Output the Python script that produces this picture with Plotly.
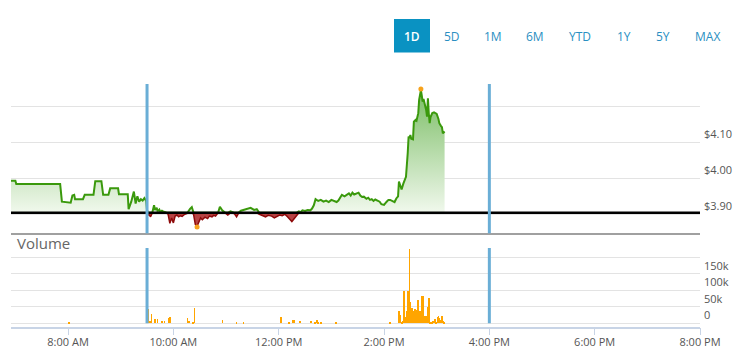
import plotly.graph_objects as go

DAY = "2019-03-07"

# ---------------- data ----------------
price_times = [
    "06:55", "07:00", "07:01", "07:51", "07:53", "07:59", "08:03", "08:05", "08:07", "08:08",
    "08:17", "08:19", "08:29", "08:31", "08:38", "08:40", "08:46", "08:48", "08:57", "08:58",
    "09:08", "09:09", "09:12", "09:15", "09:17", "09:19", "09:21", "09:23", "09:25", "09:27",
    "09:29", "09:30", "09:31", "09:32", "09:34", "09:36", "09:38", "09:39", "09:41", "09:42",
    "09:44", "09:45", "09:47", "09:49", "09:52", "09:54", "09:55", "09:56", "09:58", "10:00",
    "10:02", "10:04", "10:06", "10:08", "10:10", "10:13", "10:16", "10:19", "10:21", "10:23",
    "10:25", "10:27", "10:29", "10:31", "10:33", "10:36", "10:39", "10:41", "10:44", "10:46",
    "10:48", "10:51", "10:53", "10:56", "10:59", "11:02", "11:05", "11:08", "11:10", "11:12",
    "11:14", "11:17", "11:20", "11:24", "11:28", "11:32", "11:35", "11:38", "11:41", "11:45",
    "11:48", "11:52", "11:55", "11:58", "12:01", "12:04", "12:07", "12:10", "12:13", "12:15",
    "12:18", "12:20", "12:23", "12:25", "12:27", "12:30", "12:33", "12:36", "12:38", "12:40",
    "12:42", "12:45", "12:48", "12:51", "12:54", "12:57", "13:00", "13:03", "13:06", "13:08",
    "13:10", "13:12", "13:15", "13:18", "13:20", "13:22", "13:24", "13:26", "13:29", "13:31",
    "13:33", "13:35", "13:37", "13:40", "13:42", "13:44", "13:46", "13:48", "13:50", "13:52",
    "13:55", "13:57", "14:00", "14:03", "14:05", "14:07", "14:10", "14:12", "14:14", "14:16",
    "14:17", "14:19", "14:20", "14:22", "14:24", "14:25", "14:27", "14:28", "14:29", "14:30",
    "14:31", "14:33", "14:34", "14:36", "14:37", "14:39", "14:40", "14:42", "14:43", "14:44",
    "14:45", "14:47", "14:48", "14:49", "14:50", "14:51", "14:52", "14:53", "14:55", "14:57",
    "15:00", "15:02", "15:03", "15:05", "15:06", "15:07", "15:08", "15:09",
]
price_values = [
    3.993, 3.993, 3.984, 3.984, 3.935, 3.932, 3.932, 3.952, 3.954, 3.942,
    3.942, 3.954, 3.954, 3.992, 3.992, 3.954, 3.954, 3.972, 3.972, 3.956,
    3.956, 3.914, 3.935, 3.963, 3.930, 3.950, 3.935, 3.942, 3.938, 3.945,
    3.937, 3.912, 3.897, 3.900, 3.893, 3.905, 3.925, 3.912, 3.918, 3.908,
    3.913, 3.906, 3.910, 3.907, 3.905, 3.900, 3.885, 3.875, 3.890, 3.876,
    3.895, 3.898, 3.893, 3.896, 3.894, 3.900, 3.903, 3.915, 3.920, 3.900,
    3.872, 3.867, 3.880, 3.890, 3.885, 3.892, 3.888, 3.895, 3.893, 3.897,
    3.895, 3.905, 3.921, 3.910, 3.905, 3.898, 3.908, 3.905, 3.900, 3.893,
    3.902, 3.910, 3.912, 3.915, 3.918, 3.912, 3.914, 3.900, 3.896, 3.893,
    3.897, 3.895, 3.890, 3.893, 3.898, 3.896, 3.900, 3.893, 3.885, 3.880,
    3.889, 3.895, 3.908, 3.906, 3.911, 3.909, 3.912, 3.911, 3.916, 3.925,
    3.942, 3.937, 3.940, 3.935, 3.938, 3.934, 3.940, 3.937, 3.934, 3.938,
    3.945, 3.954, 3.950, 3.956, 3.958, 3.952, 3.960, 3.955, 3.957, 3.960,
    3.952, 3.948, 3.949, 3.943, 3.946, 3.940, 3.942, 3.937, 3.941, 3.938,
    3.935, 3.928, 3.926, 3.935, 3.940, 3.940, 3.936, 3.934, 3.944, 3.950,
    3.991, 3.978, 3.969, 3.985, 3.998, 4.004, 4.070, 4.116, 4.112, 4.120,
    4.110, 4.108, 4.157, 4.162, 4.160, 4.181, 4.218, 4.245, 4.230, 4.213,
    4.220, 4.204, 4.190, 4.171, 4.222, 4.180, 4.153, 4.170, 4.181, 4.183,
    4.179, 4.165, 4.153, 4.145, 4.142, 4.125, 4.127, 4.130,
]
prev_close = 3.904

extreme_times = ["14:42", "10:27"]
extreme_values = [4.248, 3.865]

volume_times = [
    "08:01", "09:31", "09:33", "09:35", "09:39", "09:42", "09:47", "09:50", "09:55", "09:56",
    "10:16", "10:18", "10:22", "10:24", "10:56", "11:12", "11:20", "12:03", "12:12", "12:16",
    "12:17", "12:24", "12:37", "12:41", "12:44", "12:45", "12:48", "13:05", "14:07", "14:17",
    "14:18", "14:20", "14:21", "14:22", "14:23", "14:25", "14:26", "14:27", "14:28", "14:29",
    "14:30", "14:31", "14:32", "14:34", "14:35", "14:36", "14:38", "14:39", "14:40", "14:41",
    "14:42", "14:43", "14:44", "14:45", "14:46", "14:47", "14:48", "14:50", "14:51", "14:52",
    "14:53", "14:55", "14:56", "14:58", "14:59", "15:01", "15:02", "15:03", "15:04", "15:06",
    "15:07", "15:08",
]
volume_values = [
    5000, 42000, 7000, 28000, 12000, 14000, 8000, 8000, 16000, 20000,
    16000, 7000, 4000, 47000, 10000, 4000, 4000, 20000, 4000, 10000,
    10000, 7000, 7000, 5000, 10000, 5000, 4000, 4000, 3000, 36000,
    26000, 3000, 3000, 8000, 99000, 20000, 38000, 99000, 84000, 225000,
    64000, 43000, 46000, 38000, 43000, 33000, 40000, 71000, 23000, 36000,
    33000, 84000, 38000, 84000, 23000, 20000, 23000, 48000, 77000, 5000,
    5000, 5000, 8000, 13000, 5000, 18000, 22000, 16000, 10000, 22000,
    8000, 4000,
]

session_bounds = ["09:30", "16:00"]
x_range = ["06:55", "20:00"]

price_ticks = [3.90, 4.00, 4.10, 4.20]
price_tick_labels = ["$3.90", "$4.00", "$4.10", ""]
volume_ticks = [0, 50000, 100000, 150000, 200000]
volume_tick_labels = ["0", "50k", "100k", "150k", ""]

range_labels = ["1D", "5D", "1M", "6M", "YTD", "1Y", "5Y", "MAX"]
selected_range = "1D"

# ---------------- layout constants ----------------
W, H = 748, 362
PAGE_OFFSET = 8  # default body margin of the html page
FONT = "Open Sans"
GREEN = "#3a990c"
RED_LINE = "#8e0a0a"
RED_FILL = "rgba(170,35,35,0.85)"
BLUE_MARK = "#6aaed6"
BUTTON_CENTERS = [412, 452.3, 493.3, 535.3, 580, 624.3, 663.3, 707.7]


def ts(hm):
    return f"{DAY} {hm}:00"


def px(x):
    return (x - PAGE_OFFSET) / W


def py(y):
    return 1 - (y - PAGE_OFFSET) / H


pt = [ts(t) for t in price_times]
above = [max(v, prev_close) for v in price_values]
below = [min(v, prev_close) for v in price_values]
base = [prev_close for _ in price_values]

fig = go.Figure()

# green area (gradient) above previous close
fig.add_trace(go.Scatter(x=pt, y=base, xaxis="x2", yaxis="y2", mode="lines",
                         line=dict(width=0, color="rgba(0,0,0,0)"), hoverinfo="skip"))
fig.add_trace(go.Scatter(
    x=pt, y=above, xaxis="x2", yaxis="y2", mode="lines",
    line=dict(color=GREEN, width=2), fill="tonexty",
    fillgradient=dict(type="vertical",
                      colorscale=[[0, "rgb(240,248,236)"], [1, "rgb(122,189,100)"]],
                      start=prev_close, stop=max(price_values)),
))
# red area below previous close
fig.add_trace(go.Scatter(x=pt, y=base, xaxis="x2", yaxis="y2", mode="lines",
                         line=dict(width=0, color="rgba(0,0,0,0)"), hoverinfo="skip"))
fig.add_trace(go.Scatter(
    x=pt, y=below, xaxis="x2", yaxis="y2", mode="lines",
    line=dict(color=RED_LINE, width=1.5), fill="tonexty", fillcolor=RED_FILL,
))
# previous close line
fig.add_trace(go.Scatter(
    x=[ts(x_range[0]), ts(x_range[1])], y=[prev_close, prev_close],
    xaxis="x2", yaxis="y2", mode="lines", line=dict(color="#000000", width=2.5),
))
# high / low markers
fig.add_trace(go.Scatter(
    x=[ts(t) for t in extreme_times], y=extreme_values, xaxis="x2", yaxis="y2",
    mode="markers", marker=dict(color="#f7a21b", size=5),
))

# volume bars
fig.add_trace(go.Bar(
    x=[ts(t) for t in volume_times], y=volume_values, xaxis="x", yaxis="y",
    marker=dict(color="#ffa500", line=dict(width=0)), width=55000,
))

# session boundary lines
shapes = []
for t in session_bounds:
    shapes.append(dict(type="line", xref="x2", yref="y2 domain", x0=ts(t), x1=ts(t),
                       y0=0, y1=1, line=dict(color=BLUE_MARK, width=3)))
    shapes.append(dict(type="line", xref="x", yref="y", x0=ts(t), x1=ts(t),
                       y0=0, y1=228000, line=dict(color=BLUE_MARK, width=3)))

# selected range button background
sel_i = range_labels.index(selected_range)
shapes.append(dict(type="rect", xref="paper", yref="paper",
                   x0=px(BUTTON_CENTERS[sel_i] - 18), x1=px(BUTTON_CENTERS[sel_i] + 18),
                   y0=py(52.5), y1=py(19), fillcolor="#0a92c2", line=dict(width=0), layer="below"))

annotations = []
for lab, cx in zip(range_labels, BUTTON_CENTERS):
    annotations.append(dict(
        text=lab, xref="paper", yref="paper", x=px(cx), y=py(36.5),
        xanchor="center", yanchor="middle", showarrow=False,
        font=dict(family=FONT, size=12, color="#ffffff" if lab == selected_range else "#2a8fc2",
                  weight=600 if lab == selected_range else 400),
    ))
annotations.append(dict(
    text="Volume", xref="paper", yref="paper", x=px(15), y=py(242.5),
    xanchor="left", yanchor="middle", showarrow=False,
    font=dict(family=FONT, size=15, color="#666666"),
))

x_dom = [px(11), px(700)]

fig.update_layout(
    width=W, height=H, autosize=False,
    margin=dict(l=0, r=0, t=0, b=0, autoexpand=False),
    paper_bgcolor="#ffffff", plot_bgcolor="#ffffff",
    showlegend=False, bargap=0,
    font=dict(family=FONT, size=11, color="#555555"),
    shapes=shapes, annotations=annotations,
    xaxis=dict(
        domain=x_dom, anchor="y", type="date", automargin=False,
        range=[ts(x_range[0]), ts(x_range[1])],
        tick0=ts("08:00"), dtick=2 * 3600 * 1000, tickformat="%-I:%M %p",
        ticks="outside", ticklen=7, tickcolor="#c8d4e6", tickwidth=1,
        ticklabelstandoff=-3,
        showline=True, linecolor="#c8d4e6", linewidth=1.5,
        showgrid=False, zeroline=False,
        tickfont=dict(family=FONT, size=11, color="#555555"),
    ),
    xaxis2=dict(
        domain=x_dom, anchor="y2", type="date", matches="x", automargin=False,
        showticklabels=False, ticks="",
        showline=True, linecolor="#a0a0a0", linewidth=1.5,
        showgrid=False, zeroline=False,
    ),
    yaxis=dict(
        domain=[py(326.7), py(248)], anchor="x", side="right", automargin=False,
        range=[-10300, 228200],
        tickmode="array", tickvals=volume_ticks, ticktext=volume_tick_labels,
        ticklabelposition="outside top", ticklabelstandoff=3,
        showgrid=True, gridcolor="#e3e3e3", gridwidth=1, zeroline=False,
        showline=False, ticks="",
        tickfont=dict(family=FONT, size=11, color="#555555"),
    ),
    yaxis2=dict(
        domain=[py(233.3), py(84)], anchor="x2", side="right", automargin=False,
        range=[3.8472, 4.2619],
        tickmode="array", tickvals=price_ticks, ticktext=price_tick_labels,
        ticklabelposition="outside top", ticklabelstandoff=3,
        showgrid=True, gridcolor="#e3e3e3", gridwidth=1, zeroline=False,
        showline=False, ticks="",
        tickfont=dict(family=FONT, size=11, color="#555555"),
    ),
)

fig.write_html("out.html")
